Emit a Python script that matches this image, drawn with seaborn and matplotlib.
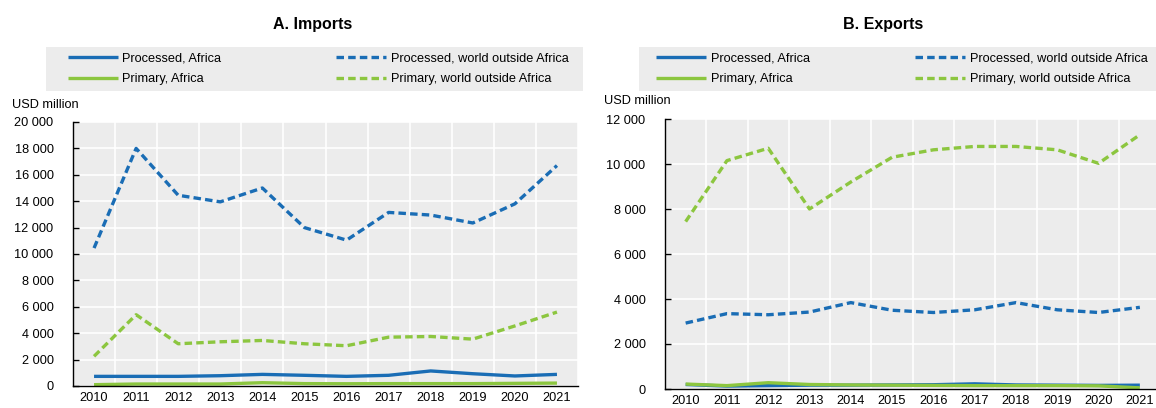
import matplotlib
matplotlib.use("Agg")
import matplotlib.pyplot as plt
import matplotlib.ticker as mticker
from matplotlib.patches import Rectangle
import seaborn as sns
import pandas as pd

years = list(range(2010, 2022))

series_names = ["Processed, Africa", "Primary, Africa",
                "Processed, world outside Africa", "Primary, world outside Africa"]

# Imports (USD million)
imp_processed_africa = [730, 730, 730, 780, 880, 810, 730, 810, 1140, 930, 760, 880]
imp_primary_africa = [100, 150, 150, 150, 250, 180, 170, 180, 180, 180, 200, 220]
imp_processed_world = [10450, 18000, 14450, 13950, 15000, 12000, 11050, 13150, 12950, 12350, 13800, 16700]
imp_primary_world = [2250, 5400, 3200, 3350, 3450, 3200, 3050, 3700, 3750, 3550, 4550, 5600]

# Exports (USD million)
exp_processed_africa = [200, 130, 150, 170, 170, 180, 190, 230, 180, 170, 160, 170]
exp_primary_africa = [220, 150, 280, 200, 180, 170, 160, 150, 150, 150, 140, 50]
exp_processed_world = [2930, 3350, 3300, 3420, 3840, 3500, 3400, 3520, 3840, 3520, 3400, 3630]
exp_primary_world = [7440, 10150, 10700, 8000, 9200, 10300, 10630, 10780, 10780, 10630, 10030, 11300]

panel_titles = ["A. Imports", "B. Exports"]
y_label = "USD million"

BLUE = "#1a6db5"
GREEN = "#8cc63f"
BG = "#ececec"
FS = 9.2

sns.set_theme(style="white")
plt.rcParams["font.family"] = ["Liberation Sans", "DejaVu Sans"]
plt.rcParams["lines.scale_dashes"] = False

styles = {
    "Processed, Africa": dict(color=BLUE, dashes=None),
    "Primary, Africa": dict(color=GREEN, dashes=None),
    "Processed, world outside Africa": dict(color=BLUE, dashes=(5.4, 3.0)),
    "Primary, world outside Africa": dict(color=GREEN, dashes=(5.4, 3.0)),
}

fig = plt.figure(figsize=(11.56, 4.08), dpi=100)
W, H = 1156.0, 408.0

ax1 = fig.add_axes([73 / W, 1 - 386 / H, (578 - 73) / W, (386 - 122) / H])
ax2 = fig.add_axes([665 / W, 1 - 389 / H, (1160.5 - 665) / W, (389 - 119) / H])

panels = [
    (ax1, [imp_processed_africa, imp_primary_africa, imp_processed_world, imp_primary_world],
     20000, 2000),
    (ax2, [exp_processed_africa, exp_primary_africa, exp_processed_world, exp_primary_world],
     12000, 2000),
]

fmt = mticker.FuncFormatter(lambda v, p: f"{int(round(v)):,}".replace(",", " "))

for ax, data, ymax, ystep in panels:
    ax.set_facecolor(BG)
    for name, vals in zip(series_names, data):
        df = pd.DataFrame({"year": years, "value": vals})
        st = styles[name]
        sns.lineplot(data=df, x="year", y="value", ax=ax, color=st["color"],
                     linewidth=2.4, label=name, solid_capstyle="butt",
                     dash_capstyle="butt")
        if st["dashes"] is not None:
            ax.lines[-1].set_dashes(st["dashes"])
    ax.set_xlim(years[0] - 0.5, years[-1] + 0.5)
    ax.set_ylim(0, ymax)
    ax.set_xlabel("")
    ax.set_ylabel("")
    ax.set_xticks(years)
    ax.set_xticklabels([str(y) for y in years])
    ax.set_xticks([y - 0.5 for y in years] + [years[-1] + 0.5], minor=True)
    ax.set_yticks(list(range(0, ymax + 1, ystep)))
    ax.yaxis.set_major_formatter(fmt)
    ax.grid(False)
    ax.grid(True, which="minor", axis="x", color="white", linewidth=1.2)
    ax.grid(True, which="major", axis="y", color="white", linewidth=1.2)
    ax.set_axisbelow(True)
    for s in ["top", "right"]:
        ax.spines[s].set_visible(False)
    for s in ["left", "bottom"]:
        ax.spines[s].set_visible(True)
        ax.spines[s].set_color("black")
        ax.spines[s].set_linewidth(1.0)
    ax.tick_params(axis="x", which="major", length=0, pad=4, labelsize=FS, colors="black")
    ax.tick_params(axis="x", which="minor", length=3, direction="out", width=0.8, color="black")
    ax.tick_params(axis="y", which="major", length=4, direction="in", width=1.0,
                   pad=14, labelsize=FS, colors="black", left=True)
    leg = ax.get_legend()
    if leg is not None:
        leg.remove()


def add_legend(ax, box_x0, box_x1, col1_x, col2_x, ytop=46.7, ybot=90.7):
    fig.add_artist(Rectangle((box_x0 / W, 1 - ybot / H), (box_x1 - box_x0) / W,
                             (ybot - ytop) / H, transform=fig.transFigure,
                             facecolor=BG, edgecolor="none", zorder=0))
    handles, labels = ax.get_legend_handles_labels()
    ycen = 1 - (ytop + ybot) / 2 / H
    for idx, cx in ((0, col1_x), (1, col2_x)):
        hs = handles[2 * idx:2 * idx + 2]
        ls = labels[2 * idx:2 * idx + 2]
        leg = fig.legend(hs, ls, loc="center left", bbox_to_anchor=(cx / W, ycen),
                         bbox_transform=fig.transFigure, frameon=False, ncol=1,
                         fontsize=FS, handlelength=3.9, handletextpad=0.37,
                         labelspacing=0.72, borderpad=0, borderaxespad=0)
        for t in leg.get_texts():
            t.set_color("black")


add_legend(ax1, 46, 583, 67.7, 336)
add_legend(ax2, 639, 1156, 656, 915)

# Titles
fig.text(313 / W, 1 - 25 / H, panel_titles[0], ha="center", va="center",
         fontsize=11.5, fontweight="bold", color="black")
fig.text(883 / W, 1 - 25 / H, panel_titles[1], ha="center", va="center",
         fontsize=11.5, fontweight="bold", color="black")

# Axis unit labels
fig.text(45 / W, 1 - 105 / H, y_label, ha="center", va="center", fontsize=FS, color="black")
fig.text(637 / W, 1 - 101.5 / H, y_label, ha="center", va="center", fontsize=FS, color="black")

fig.savefig("out.png", dpi=100)
